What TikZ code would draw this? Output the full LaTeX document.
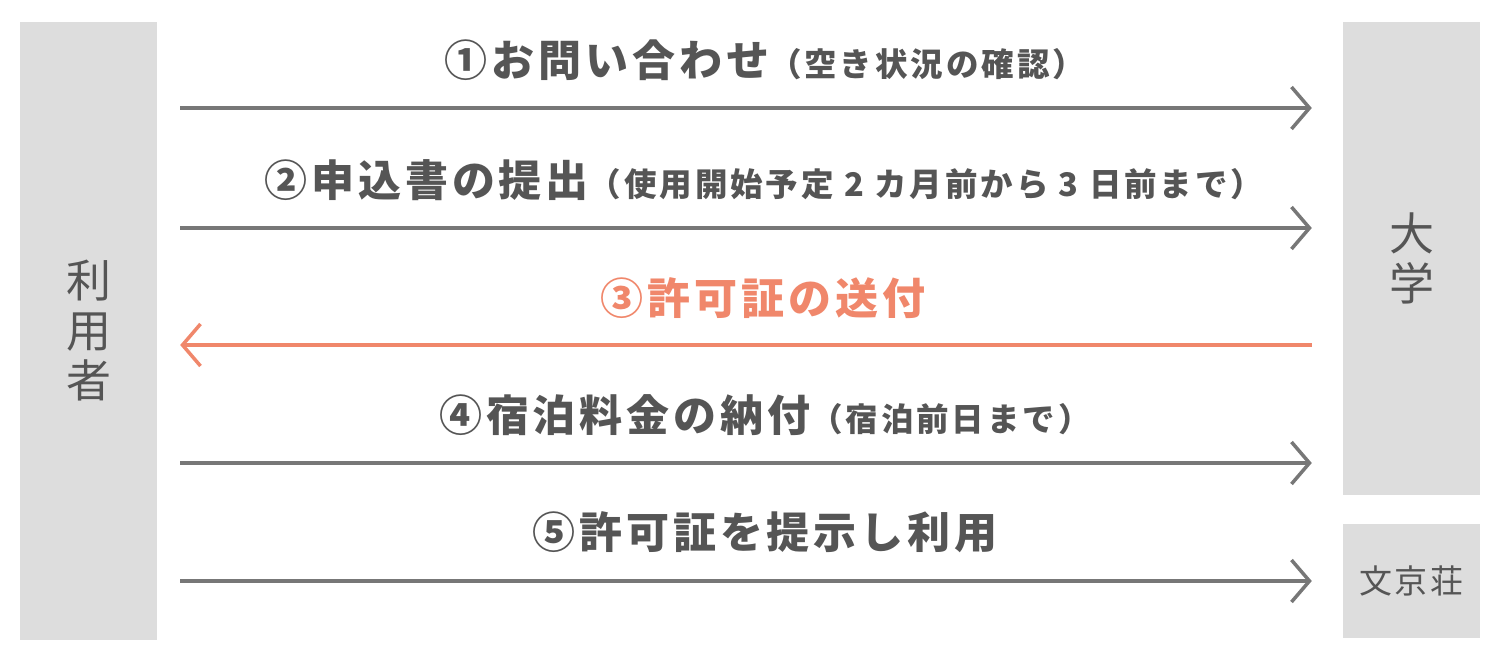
\documentclass[tikz,border=0pt]{standalone}
\usepackage{fontspec}
\usepackage{xcolor}
\usetikzlibrary{arrows.meta}
\setmainfont{Noto Sans CJK JP}
\newfontfamily\jpspaced{Noto Sans CJK JP}[LetterSpace=9]
\definecolor{boxgray}{HTML}{DDDDDD}
\definecolor{textgray}{HTML}{555555}
\definecolor{linegray}{HTML}{777777}
\definecolor{salmon}{HTML}{F0876B}
\newcommand{\bigtxt}{\jpspaced\fontsize{43}{50}\selectfont\bfseries}
\newcommand{\smalltxt}{\jpspaced\fontsize{32.5}{36}\selectfont\bfseries}

\tikzset{
  party/.style={fill=boxgray, text=textgray, inner sep=0pt, align=center},
  flowarrow/.style={draw=linegray, line width=3.5pt,
    -{Straight Barb[length=18pt, width=42pt, line width=3.5pt]}},
  backarrow/.style={flowarrow, draw=salmon, color=salmon},
  steplabel/.style={text=textgray, inner sep=0pt}
}

\begin{document}
\begin{tikzpicture}[x=1pt, y=-1pt]
  \useasboundingbox (0,0) rectangle (1500,667);

  % Parties
  \node (user) [party, minimum width=137pt, minimum height=618pt,
    font=\fontsize{45}{50}\selectfont] at (88.5,331) {利\\用\\者};
  \node (univ) [party, minimum width=137pt, minimum height=473pt,
    font=\fontsize{45}{50}\selectfont] at (1411.5,258.5) {大\\学};
  \node (dorm) [party, minimum width=137pt, minimum height=114pt,
    font=\jpspaced\fontsize{33}{36}\selectfont] at (1411.5,581) {文京荘};

  % Step labels
  \node (l1) [steplabel] at (765,60) {{\bigtxt ①お問い合わせ}{\smalltxt （空き状況の確認）}};
  \node (l2) [steplabel] at (764,180) {{\bigtxt ②申込書の提出}{\smalltxt （使用開始予定 2 カ月前から 3 日前まで）}};
  \node (l3) [steplabel, text=salmon] at (763,298) {{\bigtxt ③許可証の送付}};
  \node (l4) [steplabel] at (765,415) {{\bigtxt ④宿泊料金の納付}{\smalltxt （宿泊前日まで）}};
  \node (l5) [steplabel] at (765,532) {{\bigtxt ⑤許可証を提示し利用}};

  % Arrows
  \foreach \y in {108,228,463}
    \draw[flowarrow] ([xshift=23pt]user.east |- 0,\y) -- ([xshift=-31pt]univ.west |- 0,\y);
  \draw[backarrow] ([xshift=-31pt]univ.west |- 0,345) -- ([xshift=23pt]user.east |- 0,345);
  \draw[flowarrow] ([xshift=23pt]user.east |- 0,581) -- ([xshift=-31pt]dorm.west |- 0,581);
\end{tikzpicture}
\end{document}
